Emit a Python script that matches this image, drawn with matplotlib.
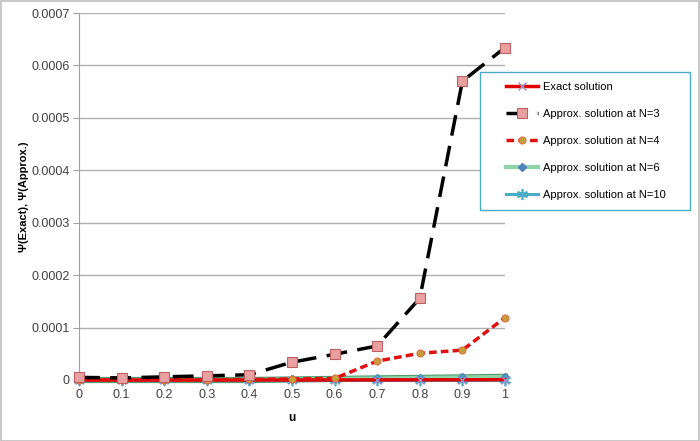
import numpy as np
import matplotlib
matplotlib.use('Agg')
import matplotlib.pyplot as plt
from matplotlib.patches import Rectangle

# valori
u = [0, 0.1, 0.2, 0.3, 0.4, 0.5, 0.6, 0.7, 0.8, 0.9, 1]
psi_exact = [0, 0, 0, 0, 0, 0, 1e-7, 2e-7, 3e-7, 4e-7, 6e-7]
psi_n3 = [5e-6, 4e-6, 6e-6, 8e-6, 1.0e-5, 3.4e-5, 4.9e-5, 6.5e-5, 1.56e-4, 5.70e-4, 6.34e-4]
psi_n4 = [0, 0, 0, 0, 1e-6, 2e-6, 3e-6, 3.6e-5, 5.1e-5, 5.7e-5, 1.19e-4]
psi_n6 = [0, 0, 0, 0, 0, 1e-6, 2e-6, 3e-6, 4e-6, 5e-6, 6e-6]
psi_n10 = [0, 0, 0, 0, 0, 0, 0, 0, 0, 0, 0]

x_ticks = ['0', '0.1', '0.2', '0.3', '0.4', '0.5', '0.6', '0.7', '0.8', '0.9', '1']
y_ticks = [0, 0.0001, 0.0002, 0.0003, 0.0004, 0.0005, 0.0006, 0.0007]
y_labels = ['0', '0.0001', '0.0002', '0.0003', '0.0004', '0.0005', '0.0006', '0.0007']

plt.rcParams['font.family'] = ['Liberation Sans', 'DejaVu Sans']

fig = plt.figure(figsize=(7, 4.41), dpi=100)
fig.patches.append(Rectangle((0.001, 0.001), 0.998, 0.997, transform=fig.transFigure,
                             fill=False, edgecolor='#BFBFBF', lw=1.2))
ax = fig.add_axes([79 / 700, 1 - 380 / 441, 426 / 700, 367 / 441])

# N=6: banda verde chiara con bordo più scuro
ax.plot(u, psi_n6, color='#4E9A6E', lw=4.5, zorder=2, clip_on=False)
ax.plot(u, psi_n6, color='#8FD3A8', lw=3, marker='D', ms=4.5, mfc='#4F81BD',
        mec='#4F81BD', zorder=3, clip_on=False, label='Approx. solution at N=6')
ax.plot(u, psi_n10, color='#4BACC6', lw=2.2, marker=(6, 2, 0), ms=8, mec='#4BACC6',
        mew=1.2, zorder=4, clip_on=False, label='Approx. solution at N=10')
ax.plot(u, psi_exact, color='#E00000', lw=2.5, marker='x', ms=6, mec='#9F8FC8',
        zorder=4, clip_on=False, label='Exact solution')
ax.plot(u, psi_n4, color='#E01010', lw=2.5, ls=(0, (2.2, 1.2)), marker='o', ms=5,
        mfc='#C3A13A', mec='#E07040', mew=0.8, zorder=5, clip_on=False,
        label='Approx. solution at N=4')
ax.plot(u, psi_n3, color='black', lw=2.5, ls=(0, (6, 3)), marker='s', ms=7,
        mfc='#E8A0A0', mec='#C06060', mew=0.8, zorder=6, clip_on=False,
        label='Approx. solution at N=3')

ax.set_xlim(0, 1)
ax.set_ylim(0, 0.0007)
ax.set_xticks(u)
ax.set_xticklabels(x_ticks)
ax.set_yticks(y_ticks)
ax.set_yticklabels(y_labels)
ax.tick_params(labelsize=9, colors='#404040', length=4, width=0.8, pad=2.5)
ax.tick_params(axis='both', color='#A0A0A0')
ax.grid(axis='y', color='#B0B0B0', lw=1)
ax.set_axisbelow(True)
for s in ['top', 'right']:
    ax.spines[s].set_visible(False)
for s in ['left', 'bottom']:
    ax.spines[s].set_color('#A0A0A0')
ax.set_xlabel('u', fontsize=8.5, fontweight='bold', labelpad=8)
ax.set_ylabel('Ψ(Exact), Ψ(Approx.)', fontsize=8, fontweight='bold', labelpad=2)

# riquadro della legenda disegnato a parte (bordo azzurro)
fig.patches.append(Rectangle((480 / 700, 1 - 210 / 441), 210 / 700, 138 / 441,
                             transform=fig.transFigure, facecolor='white',
                             edgecolor='#4BACC6', lw=1, zorder=9))

handles, labels = ax.get_legend_handles_labels()
order = [2, 4, 3, 0, 1]
leg = fig.legend([handles[i] for i in order], [labels[i] for i in order],
                 loc='upper left', bbox_to_anchor=(506 / 700, 1 - 82 / 441),
                 fontsize=8, frameon=False, labelspacing=1.53,
                 handlelength=2.9, borderpad=0, borderaxespad=0, handletextpad=0.4)
leg.set_zorder(10)

fig.savefig('out.png', dpi=100)
